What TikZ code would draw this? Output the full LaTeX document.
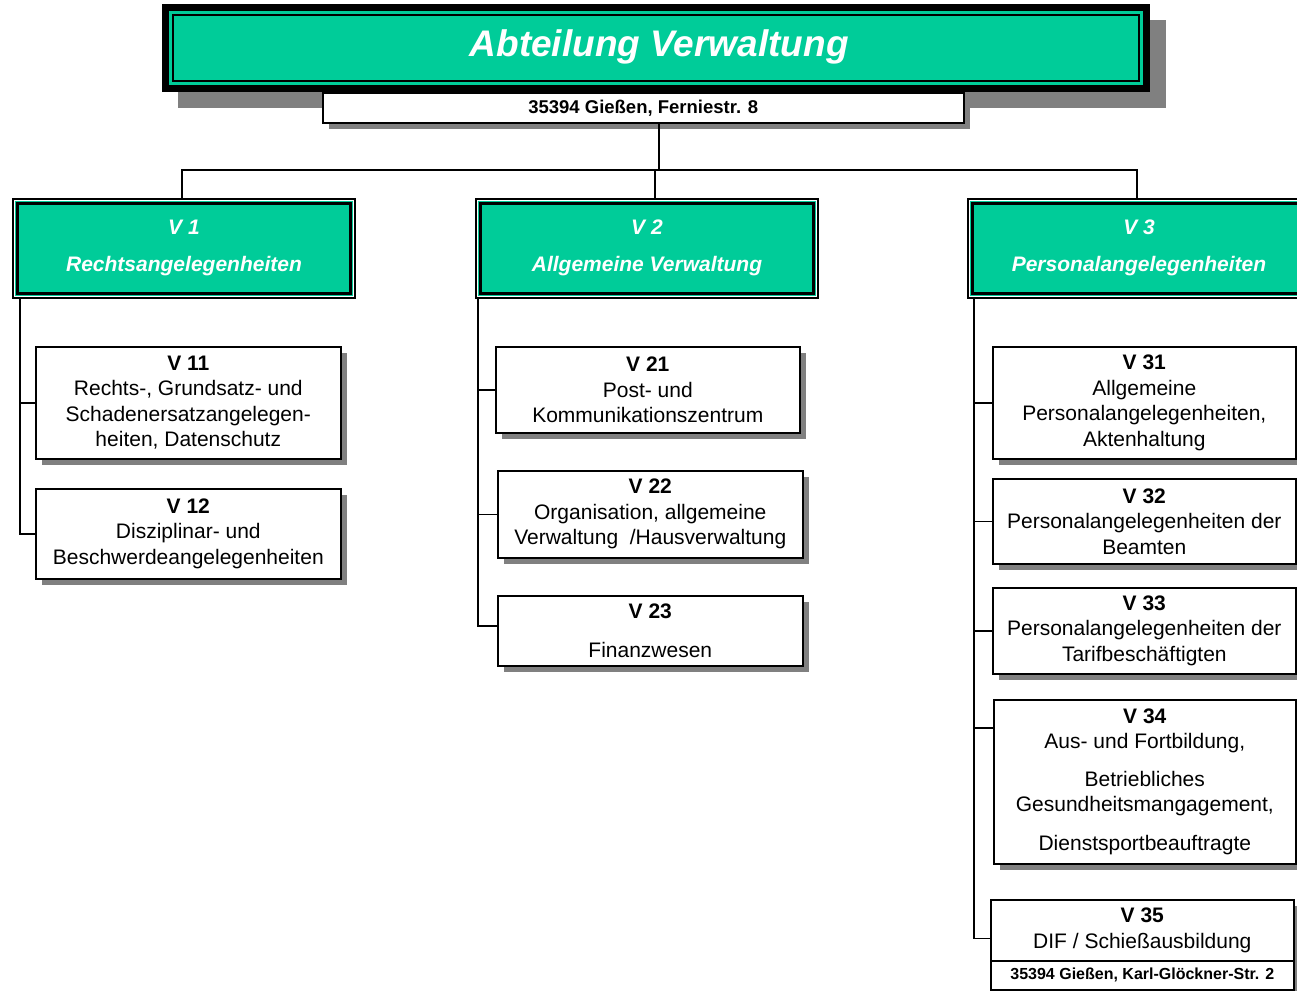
\documentclass[tikz,border=0pt]{standalone}
\usepackage{fontspec}
\setmainfont{Liberation Sans}
\usetikzlibrary{shadows}
\definecolor{vteal}{RGB}{0,204,153}
\definecolor{shgray}{RGB}{128,128,128}
\tikzset{
  conn/.style={line width=1.6pt, black},
  subbox/.style={draw=black, line width=1.6pt, fill=white, align=center, inner sep=0pt,
    font=\fontsize{21}{25.5}\selectfont,
    general shadow={fill=shgray, shadow xshift=6pt, shadow yshift=-6pt}},
  addrbox/.style={draw=black, line width=1.6pt, fill=white, inner sep=0pt,
    general shadow={fill=shgray, shadow xshift=6pt, shadow yshift=-6pt}},
  titlebox/.style={fill=black, inner sep=0pt,
    general shadow={fill=shgray, shadow xshift=16pt, shadow yshift=-16pt}},
  titletext/.style={text=white, font=\fontsize{37}{44}\selectfont\bfseries\itshape},
  headbox/.style={draw=black, line width=2pt, fill=white, inner sep=0pt,
    minimum width=342pt, minimum height=99pt},
  headmid/.style={draw=vteal, line width=1pt},
  headinner/.style={draw=black, line width=3pt, fill=vteal},
  headtext/.style={text=white, align=center, font=\fontsize{21}{25.5}\selectfont\bfseries\itshape},
}
\newcommand\mkheader[4]{%
  \node[headbox, anchor=north west] (#1) at (#2,198) {};
  \draw[headmid] ([shift={(3.5pt,3.5pt)}]#1.south west) rectangle ([shift={(-3.5pt,-3.5pt)}]#1.north east);
  \draw[headinner] ([shift={(5.5pt,5.5pt)}]#1.south west) rectangle ([shift={(-5.5pt,-5.5pt)}]#1.north east);
  \node[headtext] (#1t) at ([yshift=0.5pt]#1.center) {#3\\[12pt]#4};
}
\begin{document}
\begin{tikzpicture}[x=1pt,y=-1pt]
\useasboundingbox (0,0) rectangle (1297,990);
\clip (0,0) rectangle (1297,990);

% title
\node[titlebox, anchor=north west, minimum width=988pt, minimum height=88pt] (title) at (162,4) {};
\fill[vteal] ([shift={(7pt,7pt)}]title.south west) rectangle ([shift={(-7pt,-7pt)}]title.north east);
\draw[line width=2pt] ([shift={(11pt,11pt)}]title.south west) rectangle ([shift={(-11pt,-11pt)}]title.north east);
\node[titletext] (titlet) at ([xshift=3pt,yshift=1pt]title.center) {Abteilung Verwaltung};

\node[addrbox, anchor=north west, minimum width=641pt, minimum height=30pt,
  font=\fontsize{18.5}{22}\selectfont\bfseries] (addr) at (322,92) {35394 Gießen, Ferniestr. 8};

% headers
\mkheader{v1}{12}{V 1}{Rechtsangelegenheiten}
\mkheader{v2}{475}{V 2}{Allgemeine Verwaltung}
\mkheader{v3}{967}{V 3}{Personalangelegenheiten}

% V1 group
\node[subbox, anchor=north west, minimum width=305pt, minimum height=112pt] (v11) at (35,346)
  {\textbf{V 11}\\Rechts-, Grundsatz- und\\Schadenersatzangelegen-\\heiten, Datenschutz};
\node[subbox, anchor=north west, minimum width=305pt, minimum height=90pt] (v12) at (35,488)
  {\textbf{V 12}\\Disziplinar- und\\Beschwerdeangelegenheiten};

% V2 group
\node[subbox, anchor=north west, minimum width=304pt, minimum height=86pt] (v21) at (495,346)
  {\textbf{V 21}\\Post- und\\Kommunikationszentrum};
\node[subbox, anchor=north west, minimum width=305pt, minimum height=87pt] (v22) at (497,470)
  {\textbf{V 22}\\Organisation, allgemeine\\Verwaltung\ \ /Hausverwaltung};
\node[subbox, anchor=north west, minimum width=305pt, minimum height=70pt] (v23) at (497,595)
  {\textbf{V 23}\\[14pt]Finanzwesen};

% V3 group
\node[subbox, anchor=north west, minimum width=303pt, minimum height=112pt] (v31) at (992,346)
  {\textbf{V 31}\\Allgemeine\\Personalangelegenheiten,\\Aktenhaltung};
\node[subbox, anchor=north west, minimum width=303pt, minimum height=85pt] (v32) at (992,478)
  {\textbf{V 32}\\Personalangelegenheiten der\\Beamten};
\node[subbox, anchor=north west, minimum width=303pt, minimum height=86pt] (v33) at (992,587)
  {\textbf{V 33}\\Personalangelegenheiten der\\Tarifbeschäftigten};
\node[subbox, anchor=north west, minimum width=302pt, minimum height=164pt] (v34) at (993,699)
  {\textbf{V 34}\\Aus- und Fortbildung,\\[12pt]Betriebliches\\Gesundheitsmangagement,\\[13pt]Dienstsportbeauftragte};
\node[subbox, anchor=north west, minimum width=303pt, minimum height=61pt] (v35) at (990,899)
  {\textbf{V 35}\\DIF / Schießausbildung};
\node[addrbox, anchor=north west, minimum width=303pt, minimum height=29pt,
  font=\fontsize{16}{19}\selectfont\bfseries] (v35a) at (990,960) {35394 Gießen, Karl-Glöckner-Str. 2};

% connectors
\coordinate (bus) at (659,170);
\draw[conn] (addr.south -| bus) -- (bus);
\draw[conn] ([xshift=-2pt]v1.north) |- (bus) -| ([xshift=-2pt]v3.north);
\draw[conn] ([xshift=8pt]v2.north) -- ([xshift=8pt]v2.north |- bus);

\coordinate (t1) at ([xshift=8pt]v1.south west);
\draw[conn] (t1) |- (v12.west);
\draw[conn] (v11.west -| t1) -- (v11.west);

\coordinate (t2) at ([xshift=3pt]v2.south west);
\draw[conn] (t2) |- ([yshift=5pt]v23.west);
\draw[conn] (v21.west -| t2) -- (v21.west);
\draw[conn] (v22.west -| t2) -- (v22.west);

\coordinate (t3) at ([xshift=7pt]v3.south west);
\draw[conn] (t3) |- ([yshift=-8pt]v35.west);
\draw[conn] (v31.west -| t3) -- (v31.west);
\draw[conn] (v32.west -| t3) -- (v32.west);
\draw[conn] (v33.west -| t3) -- (v33.west);
\draw[conn] ([yshift=54pt]v34.west -| t3) -- ([yshift=54pt]v34.west);
\end{tikzpicture}
\end{document}
